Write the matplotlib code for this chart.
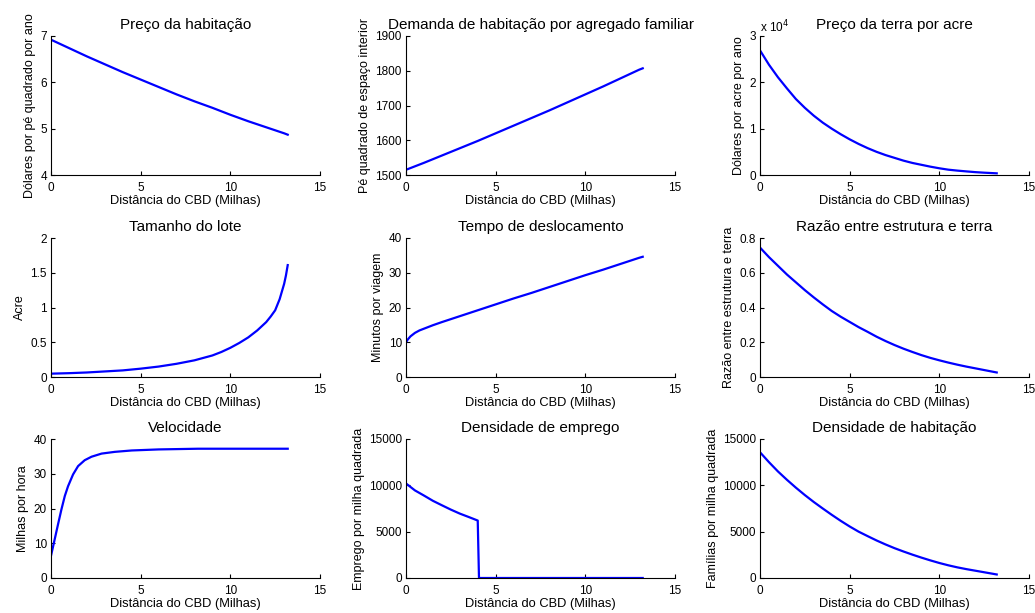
import matplotlib
matplotlib.use("Agg")
import matplotlib.pyplot as plt
from matplotlib.ticker import FuncFormatter

plt.rcParams['font.family'] = ['Liberation Sans', 'DejaVu Sans']

# ---------------- data ----------------
x_std = [0, 1, 2, 3, 4, 5, 6, 7, 8, 9, 10, 11, 12, 13, 13.2]
x_half = [0, 0.5, 1, 1.5, 2, 2.5, 3, 3.5, 4, 4.5, 5, 5.5, 6, 6.5, 7, 7.5, 8, 8.5, 9, 9.5,
          10, 10.5, 11, 11.5, 12, 12.5, 13, 13.2]

house_price = [6.92, 6.74, 6.56, 6.39, 6.22, 6.06, 5.90, 5.74, 5.59, 5.45, 5.30, 5.16, 5.03, 4.90, 4.87]
house_demand = [1515, 1535, 1556, 1577, 1598, 1620, 1642, 1664, 1686, 1709, 1732, 1755, 1779, 1803, 1807]
land_price = [26900, 23800, 21100, 18700, 16400, 14500, 12800, 11300, 10000, 8800, 7700, 6700,
              5800, 5000, 4300, 3700, 3100, 2600, 2200, 1800, 1450, 1150, 950, 780, 620, 500, 400, 360]

x_lot = [0, 1, 2, 3, 4, 5, 6, 7, 8, 9, 9.5, 10, 10.5, 11, 11.5, 12, 12.25, 12.5, 12.75, 13, 13.1, 13.2]
lot_size = [0.048, 0.055, 0.065, 0.08, 0.095, 0.12, 0.15, 0.19, 0.24, 0.31, 0.36, 0.42, 0.49, 0.57,
            0.67, 0.79, 0.87, 0.96, 1.12, 1.34, 1.46, 1.61]

x_commute = [0, 0.1, 0.25, 0.5, 0.75, 1, 1.5, 2, 3, 4, 5, 6, 7, 8, 9, 10, 11, 12, 13, 13.2]
commute_time = [10, 10.8, 11.7, 12.7, 13.4, 13.9, 14.9, 15.8, 17.5, 19.2, 20.9, 22.6, 24.2, 25.9,
                27.6, 29.3, 30.9, 32.6, 34.3, 34.6]

sl_ratio = [0.745, 0.69, 0.64, 0.59, 0.545, 0.50, 0.458, 0.418, 0.38, 0.347, 0.317, 0.287, 0.26,
            0.232, 0.207, 0.184, 0.163, 0.144, 0.126, 0.11, 0.096, 0.083, 0.071, 0.06, 0.05, 0.04,
            0.03, 0.026]

x_speed = [0, 0.2, 0.39, 0.58, 0.77, 0.95, 1.23, 1.51, 1.88, 2.26, 2.82, 3.56, 4.5, 6.0, 8.2, 13.2]
speed = [6.4, 11.0, 15.4, 19.7, 23.6, 26.4, 29.8, 32.2, 33.9, 34.9, 35.8, 36.3, 36.7, 37.0, 37.2, 37.2]

x_emp = [0, 0.5, 1, 1.5, 2, 2.5, 3, 3.5, 4.0, 4.07, 13.2]
emp_density = [10200, 9450, 8900, 8330, 7850, 7380, 6950, 6580, 6200, 0, 0]

house_density = [13570, 12500, 11500, 10600, 9750, 8950, 8200, 7500, 6820, 6170, 5560, 5000, 4520,
                 4050, 3620, 3220, 2860, 2520, 2200, 1900, 1620, 1370, 1150, 960, 790, 620, 450, 380]

titles = ["Preço da habitação", "Demanda de habitação por agregado familiar", "Preço da terra por acre",
          "Tamanho do lote", "Tempo de deslocamento", "Razão entre estrutura e terra",
          "Velocidade", "Densidade de emprego", "Densidade de habitação"]
ylabels = ["Dólares por pé quadrado por ano", "Pé quadrado de espaço interior", "Dólares por acre por ano",
           "Acre", "Minutos por viagem", "Razão entre estrutura e terra",
           "Milhas por hora", "Emprego por milha quadrada", "Famílias por milha quadrada"]
xlabel = "Distância do CBD (Milhas)"
xticks = [0, 5, 10, 15]
yticks = [[4, 5, 6, 7], [1500, 1600, 1700, 1800, 1900], [0, 10000, 20000, 30000],
          [0, 0.5, 1, 1.5, 2], [0, 10, 20, 30, 40], [0, 0.2, 0.4, 0.6, 0.8],
          [0, 10, 20, 30, 40], [0, 5000, 10000, 15000], [0, 5000, 10000, 15000]]

series = [(x_std, house_price), (x_std, house_demand), (x_half, land_price),
          (x_lot, lot_size), (x_commute, commute_time), (x_half, sl_ratio),
          (x_speed, speed), (x_emp, emp_density), (x_half, house_density)]

# ---------------- figure ----------------
W, H = 1035, 613
fig = plt.figure(figsize=(W / 100, H / 100), dpi=100)

col_left = [51, 406, 760]
row_top = [36, 238, 439]
aw, ah = 269, 139

def fmt_num(v, pos=None):
    return f"{v:g}"

for i in range(9):
    r, c = divmod(i, 3)
    left = col_left[c] / W
    bottom = 1 - (row_top[r] + ah) / H
    ax = fig.add_axes([left, bottom, aw / W, ah / H])
    xs, ys = series[i]
    ax.plot(xs, ys, color=(0, 0, 1), lw=1.6)
    ax.set_xlim(0, 15)
    yt = yticks[i]
    ax.set_ylim(yt[0], yt[-1])
    ax.set_xticks(xticks)
    ax.set_yticks(yt)
    if i == 2:
        ax.yaxis.set_major_formatter(FuncFormatter(lambda v, p: f"{v / 1e4:g}"))
        ax.text(0.0, 1.005, r"x 10$^{4}$", transform=ax.transAxes, fontsize=8.5,
                ha='left', va='bottom')
    else:
        ax.yaxis.set_major_formatter(FuncFormatter(fmt_num))
    ax.spines['top'].set_visible(False)
    ax.spines['right'].set_visible(False)
    for sp in ['left', 'bottom']:
        ax.spines[sp].set_linewidth(0.8)
    ax.tick_params(direction='in', length=3, width=0.8, labelsize=8.5)
    ax.tick_params(axis='x', pad=5)
    ax.tick_params(axis='y', pad=3)
    ax.set_title(titles[i], fontsize=11, pad=5)
    ax.set_xlabel(xlabel, fontsize=9.3, labelpad=1)
    ax.set_ylabel(ylabels[i], fontsize=9, labelpad=3)

fig.savefig("out.png", dpi=100)
